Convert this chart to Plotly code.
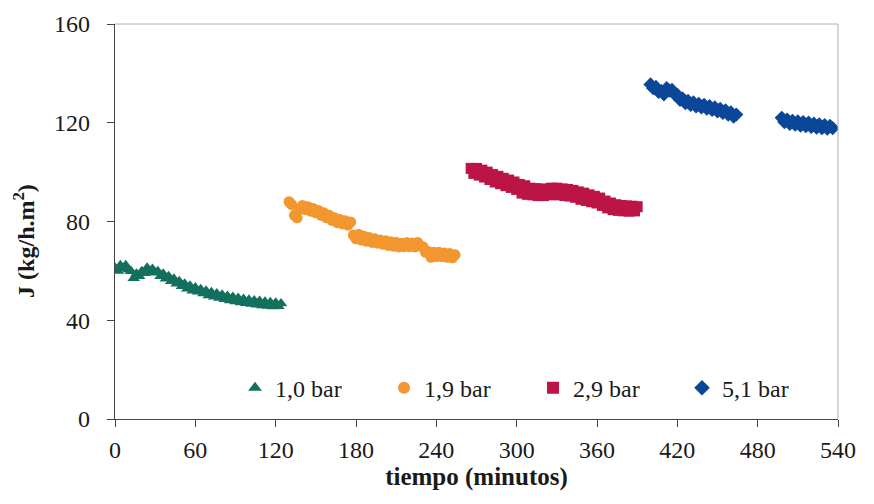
import plotly.graph_objects as go

# Permeate flux J (kg/h.m2) vs time (min) at four transmembrane pressures
t_10 = [0, 2, 4, 6, 8, 10, 12, 14, 16, 18, 20, 22, 24, 26, 28, 30, 32, 34, 36, 38,
        40, 42, 44, 46, 48, 50, 52, 54, 56, 58, 60, 62, 64, 66, 68, 70, 72, 74, 76, 78,
        80, 82, 84, 86, 88, 90, 92, 94, 96, 98, 100, 102, 104, 106, 108, 110, 112, 114,
        116, 118, 120, 122, 124]
j_10 = [61.3, 60, 62.3, 61, 62.3, 60.5, 59.8, 57, 58.8, 57.8, 59.8, 59, 61.3, 59.8,
        60.8, 59.2, 59.8, 57.8, 58.8, 56.8, 57.8, 55.8, 56.8, 54.8, 55.8, 53.8, 54.8,
        52.8, 54, 52, 53.3, 51.5, 52.6, 50.8, 52, 50, 51.3, 49.5, 50.8, 49, 50.3, 48.5,
        49.8, 48, 49.4, 47.6, 49, 47.2, 48.6, 46.9, 48.3, 46.6, 48, 46.3, 47.8, 46, 47.5,
        45.8, 47.3, 45.6, 47.1, 45.7, 46.8]

t_19 = [130, 132, 134, 136, 138, 140, 142, 144, 146, 148, 150, 152, 154, 156, 158, 160,
        162, 164, 166, 168, 170, 172, 174, 176, 178, 180, 182, 184, 186, 188, 190, 192,
        194, 196, 198, 200, 202, 204, 206, 208, 210, 212, 214, 216, 218, 220, 222, 224,
        226, 228, 230, 232, 234, 236, 238, 240, 242, 244, 246, 248, 250, 252, 254]
j_19 = [88, 86.8, 82.5, 81.5, 85, 86.5, 84.8, 86, 84.2, 85.3, 83.5, 84.5, 82.5, 83.5,
        81.5, 82.5, 80.5, 81.5, 79.5, 80.8, 79, 80.3, 78.5, 79.8, 74.5, 73, 74.8, 72.5,
        74, 72, 73.5, 71.5, 73, 71.2, 72.5, 70.8, 72.2, 70.3, 71.8, 70, 71.5, 69.7, 71.2,
        69.8, 71.5, 69.8, 71.3, 69.7, 71.5, 70, 69.8, 67.5, 67.8, 65.5, 67.5, 65.8, 67.5,
        65.8, 67.2, 65.5, 67, 65.3, 66.5]

t_29 = [266, 268, 270, 272, 274, 276, 278, 280, 282, 284, 286, 288, 290, 292, 294, 296,
        298, 300, 302, 304, 306, 308, 310, 312, 314, 316, 318, 320, 322, 324, 326, 328,
        330, 332, 334, 336, 338, 340, 342, 344, 346, 348, 350, 352, 354, 356, 358, 360,
        362, 364, 366, 368, 370, 372, 374, 376, 378, 380, 382, 384, 386, 388, 390]
j_29 = [101.5, 99.5, 101.5, 98.8, 100.8, 98, 100, 97, 99, 96, 98.3, 95.3, 97.5, 94.5,
        96.8, 93.8, 96, 93, 95, 91.5, 94.5, 91, 93.5, 90.8, 93.3, 90.5, 93.2, 90.5, 93,
        90.8, 93.5, 91, 93.5, 90.8, 93.2, 90.5, 93, 90.3, 92.6, 89.8, 92, 89, 91.5, 88.5,
        90.8, 88, 90.2, 87.5, 89.5, 86.5, 88.3, 85.5, 87.5, 84.8, 86.8, 84.5, 86.5, 84.3,
        86.3, 84.2, 86.2, 84.3, 86]

t_51 = [400, 402, 404, 406, 408, 410, 412, 414, 416, 418, 420, 422, 424, 426, 428, 430,
        432, 434, 436, 438, 440, 442, 444, 446, 448, 450, 452, 454, 456, 458, 460, 462,
        464,
        None,
        498, 500, 502, 504, 506, 508, 510, 512, 514, 516, 518, 520, 522, 524, 526, 528,
        530, 532, 534, 536]
j_51 = [135.5, 134, 134.5, 132.5, 132.8, 131.5, 134, 133, 133.3, 131.5, 131.3, 129.3,
        129.8, 128, 128.8, 127.2, 128.2, 126.6, 127.6, 126.2, 127.2, 125.7, 126.7, 125.2,
        126.2, 124.6, 125.6, 124, 125, 123.3, 124.2, 122.5, 123.3,
        None,
        122, 120.3, 121.3, 119.6, 120.8, 119.2, 120.5, 118.8, 120.2, 118.6, 120, 118.3,
        119.6, 118, 119.3, 117.8, 119, 117.6, 118.7, 117.8]

x_ticks = [0, 60, 120, 180, 240, 300, 360, 420, 480, 540]
y_ticks = [0, 40, 80, 120, 160]

series = [
    ("1,0 bar", t_10, j_10, "triangle-up", "#13705e"),
    ("1,9 bar", t_19, j_19, "circle", "#f2962f"),
    ("2,9 bar", t_29, j_29, "square", "#bb1445"),
    ("5,1 bar", t_51, j_51, "diamond", "#0b4799"),
]

FONT = "Liberation Serif, Times New Roman, serif"

fig = go.Figure()
for name, xs, ys, sym, col in series:
    fig.add_trace(go.Scatter(
        x=xs, y=ys, mode="markers", name=name,
        marker=dict(symbol=sym, size=11, color=col, line=dict(width=0)),
    ))

fig.update_layout(
    width=874, height=504,
    margin=dict(l=115, r=36, t=24, b=85),
    paper_bgcolor="white", plot_bgcolor="white",
    font=dict(family=FONT, size=24, color="#1a1a1a"),
    showlegend=True,
    legend=dict(
        orientation="h", x=0.166, y=0.078, xanchor="left", yanchor="middle",
        bgcolor="rgba(0,0,0,0)", font=dict(family=FONT, size=24),
        entrywidth=104, entrywidthmode="pixels", itemsizing="constant",
        itemwidth=30, tracegroupgap=0,
    ),
    xaxis=dict(
        range=[0, 540], tickvals=x_ticks, ticktext=[str(v) for v in x_ticks],
        showgrid=False, zeroline=False, showline=True, linecolor="#444", linewidth=1.2,
        ticks="outside", ticklen=7, tickcolor="#444", ticklabelstandoff=2,
        tickfont=dict(family=FONT, size=24),
        title=dict(text="<b>tiempo (minutos)</b>", font=dict(family=FONT, size=25), standoff=4),
    ),
    yaxis=dict(
        range=[0, 160], tickvals=y_ticks, ticktext=[str(v) for v in y_ticks],
        showgrid=False, zeroline=False, showline=True, linecolor="#444", linewidth=1.2,
        ticks="outside", ticklen=7, tickcolor="#444", ticklabelstandoff=12,
        tickfont=dict(family=FONT, size=24),
    ),
)

# y-axis title, set a little below the middle of the axis
fig.add_annotation(
    text="<b>J (kg/h.m<sup>2</sup>)</b>", textangle=-90,
    xref="paper", yref="paper", x=-0.125, y=0.45,
    xanchor="center", yanchor="middle", showarrow=False,
    font=dict(family=FONT, size=24, color="#1a1a1a"),
)

# light frame on the top and right sides of the plot area
fig.add_shape(type="line", xref="paper", yref="paper", x0=0, x1=1, y0=1, y1=1,
              line=dict(color="#b0b0b0", width=1))
fig.add_shape(type="line", xref="paper", yref="paper", x0=1, x1=1, y0=0, y1=1,
              line=dict(color="#b0b0b0", width=1))

fig.write_html("out.html")
